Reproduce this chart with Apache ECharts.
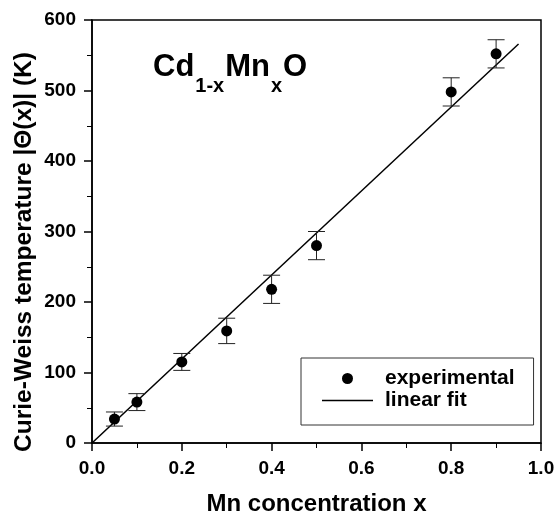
<!DOCTYPE html>
<html>
<head>
<meta charset="utf-8">
<script src="https://cdn.jsdelivr.net/npm/echarts@6/dist/echarts.min.js"></script>
<style>
html,body{margin:0;padding:0;background:#fff;}
#chart{width:558px;height:516px;}
</style>
</head>
<body>
<div id="chart"></div>
<script>
// Data
const mnX = [0.05, 0.10, 0.20, 0.30, 0.40, 0.50, 0.80, 0.90];
const theta = [34, 58, 115, 159, 218, 280, 498, 552];
const thetaErr = [10, 12, 12, 18, 20, 20, 20, 20];
const fitX = [0, 0.95];
const fitY = [0, 566];
const xTicks = [0, 0.2, 0.4, 0.6, 0.8, 1.0];
const yTicks = [0, 100, 200, 300, 400, 500, 600];
const yTitle = 'Curie-Weiss temperature |Θ(x)| (K)';
const xTitle = 'Mn concentration x';

const FONT = 'Liberation Sans, Arial, sans-serif';
const chart = echarts.init(document.getElementById('chart'), null, {renderer: 'canvas'});

const expData = mnX.map((x, i) => [x, theta[i]]);
const errData = mnX.map((x, i) => [x, theta[i], thetaErr[i]]);
const fitData = fitX.map((x, i) => [x, fitY[i]]);

const option = {
  backgroundColor: '#fff',
  animation: false,
  title: {
    text: '{a|Cd}{s|1-x}{a|Mn}{s|x}{a|O}',
    left: 153, top: 52, padding: 0,
    textStyle: {
      rich: {
        a: {fontFamily: FONT, fontWeight: 'bold', fontSize: 31, lineHeight: 31, color: '#000'},
        s: {fontFamily: FONT, fontWeight: 'bold', fontSize: 20, lineHeight: 20, color: '#000', padding: [38, 1, 0, 1]}
      }
    }
  },
  graphic: [{
    type: 'text', x: 24.5, y: 252, rotation: Math.PI / 2,
    style: {text: yTitle, fontFamily: FONT, fontWeight: 'bold', fontSize: 24.5, fill: '#000',
      align: 'center', verticalAlign: 'middle'}
  }],
  grid: {left: 92, right: 17, top: 20, bottom: 73, show: true, borderColor: '#000', borderWidth: 1.5,
    containLabel: false, outerBoundsMode: 'none'},
  legend: {
    orient: 'vertical',
    left: 301, top: 358,
    padding: [10, 19, 14, 21],
    itemWidth: 51, itemHeight: 11, itemGap: 1,
    borderColor: '#333', borderWidth: 1,
    data: [
      {name: 'experimental', icon: 'circle'},
      {name: 'linear fit', icon: 'path://M0,0L0.01,0L0.01,0.01L0,0.01Z M0,4.8L51,4.8L51,6.2L0,6.2Z M0,11L0.01,11L0.01,10.99L0,10.99Z'}
    ],
    textStyle: {fontFamily: FONT, fontWeight: 'bold', fontSize: 21, lineHeight: 21, color: '#000', padding: [0, 0, 0, 7]}
  },
  xAxis: {
    type: 'value', min: 0, max: 1, interval: 0.2,
    name: xTitle, nameLocation: 'middle', nameGap: 49,
    nameTextStyle: {fontFamily: FONT, fontWeight: 'bold', fontSize: 24, color: '#000'},
    axisLine: {show: true, onZero: false, lineStyle: {color: '#000', width: 1.5}},
    axisTick: {show: true, inside: false, length: 8, lineStyle: {color: '#000', width: 1.5}},
    minorTick: {show: true, splitNumber: 2, length: 5, lineStyle: {color: '#000', width: 1}},
    splitLine: {show: false},
    axisLabel: {fontFamily: FONT, fontWeight: 'bold', fontSize: 19, color: '#000', margin: 16,
      formatter: v => xTicks.some(t => Math.abs(t - v) < 1e-9) ? v.toFixed(1) : ''}
  },
  yAxis: {
    type: 'value', min: 0, max: 600, interval: 100,
    axisLine: {show: true, onZero: false, lineStyle: {color: '#000', width: 1.5}},
    axisTick: {show: true, inside: false, length: 8, lineStyle: {color: '#000', width: 1.5}},
    minorTick: {show: true, splitNumber: 2, length: 5, lineStyle: {color: '#000', width: 1}},
    splitLine: {show: false},
    axisLabel: {fontFamily: FONT, fontWeight: 'bold', fontSize: 19, color: '#000', margin: 16,
      formatter: v => yTicks.indexOf(v) >= 0 ? String(v) : ''}
  },
  series: [
    {
      name: 'linear fit', type: 'line', data: fitData, symbol: 'none',
      lineStyle: {color: '#000', width: 1.5}, itemStyle: {color: '#000'}, z: 2
    },
    {
      name: 'errorbars', type: 'custom', data: errData, z: 3,
      renderItem: function (params, api) {
        const x = api.value(0), y = api.value(1), e = api.value(2);
        const top = api.coord([x, y + e]);
        const bot = api.coord([x, y - e]);
        const hw = 8.5;
        const st = {stroke: '#222', lineWidth: 1};
        return {
          type: 'group',
          children: [
            {type: 'line', shape: {x1: top[0], y1: top[1], x2: bot[0], y2: bot[1]}, style: st},
            {type: 'line', shape: {x1: top[0] - hw, y1: top[1], x2: top[0] + hw, y2: top[1]}, style: st},
            {type: 'line', shape: {x1: bot[0] - hw, y1: bot[1], x2: bot[0] + hw, y2: bot[1]}, style: st}
          ]
        };
      }
    },
    {
      name: 'experimental', type: 'scatter', data: expData, symbol: 'circle', symbolSize: 11,
      itemStyle: {color: '#000', opacity: 1}, z: 4
    }
  ]
};
chart.setOption(option);
</script>
</body>
</html>
